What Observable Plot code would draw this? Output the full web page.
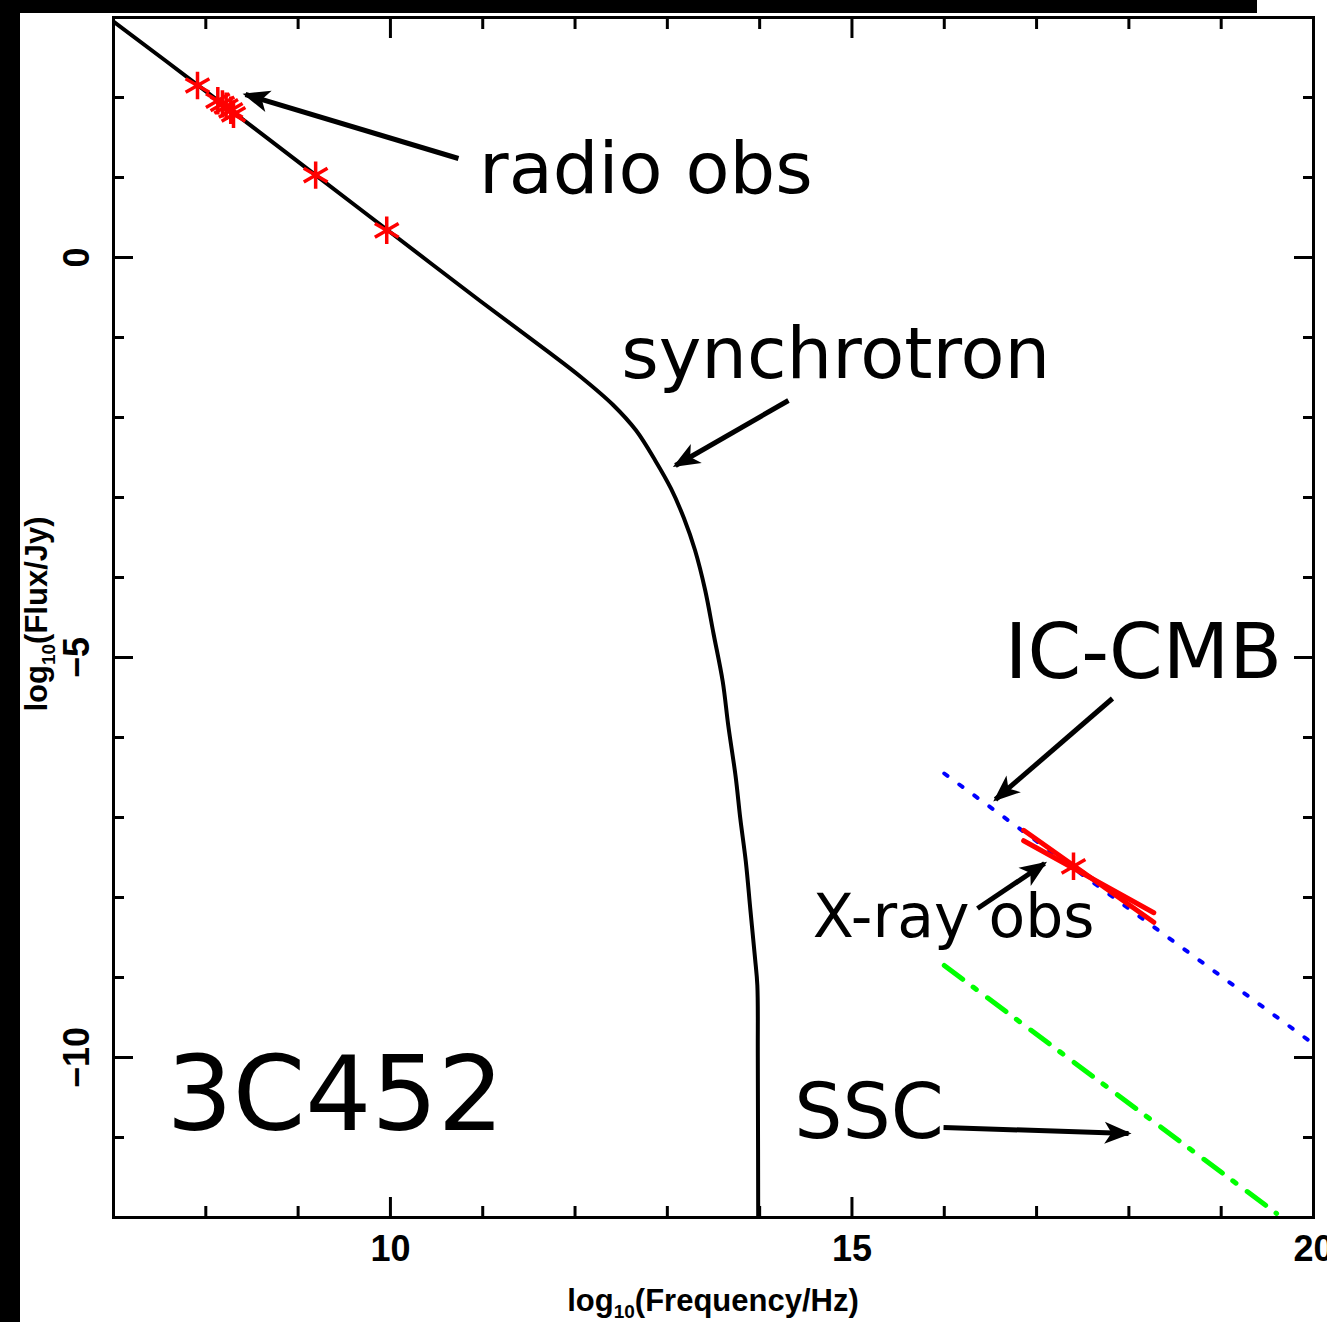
<!DOCTYPE html>
<html><head><meta charset="utf-8">
<script src="https://cdn.jsdelivr.net/npm/d3@7"></script>
<script src="https://cdn.jsdelivr.net/npm/@observablehq/plot@0.6"></script>
<style>
html,body{margin:0;padding:0;background:#fff;overflow:hidden;}
#wrap{position:relative;width:1327px;height:1322px;}
.bar{position:absolute;background:#000;}
</style></head><body>
<div id="wrap"><div id="chart"></div>
<div class="bar" style="left:0;top:0;width:20px;height:1322px"></div>
<div class="bar" style="left:0;top:0;width:1257px;height:13px"></div>
</div>
<script>
// ---------- data (log10 frequency / Hz, log10 flux / Jy) ----------
const synchFreq = [7.00, 7.93, 9.19, 9.96, 10.98, 11.70, 12.06, 12.41, 12.66, 12.87, 13.04, 13.18, 13.30, 13.41, 13.50, 13.60, 13.66, 13.74, 13.79, 13.85, 13.90, 13.95, 13.975, 13.98, 13.985];
const synchFlux = [2.95, 2.14, 1.03, 0.35, -0.55, -1.17, -1.49, -1.84, -2.16, -2.54, -2.89, -3.26, -3.66, -4.16, -4.70, -5.30, -5.85, -6.49, -7.01, -7.55, -8.16, -8.76, -9.1, -10.0, -12.5];

const radioFreq = [7.91, 8.13, 8.18, 8.22, 8.27, 8.30, 9.19, 9.96];
const radioFlux = [2.15, 1.96, 1.92, 1.89, 1.84, 1.79, 1.03, 0.34];

const xrayFreq = [17.40];
const xrayFlux = [-7.61];
const bowFreq = [16.86, 18.27];
const bowFluxA = [-7.16, -8.31];
const bowFluxB = [-7.29, -8.19];

const icFreq = [16.0, 20.0];
const icFlux = [-6.45, -9.83];
const sscFreq = [16.0, 19.6];
const sscFlux = [-8.85, -11.95];

const xMajor = [10, 15, 20];
const xMinor = [8, 9, 11, 12, 13, 14, 16, 17, 18, 19];
const yMajor = [0, -5, -10];
const yMinor = [2, 1, -1, -2, -3, -4, -6, -7, -8, -9, -11];

const noteText = ["radio obs", "synchrotron", "IC-CMB", "X-ray obs", "SSC", "3C452"];
const noteX = [10.96, 12.50, 16.655, 14.575, 14.375, 7.575];
const noteY = [0.8125, -1.51, -5.26, -8.49, -11.0, -10.91];
const noteSize = [72, 72, 77, 60, 76, 104];

const arrowX1 = [10.737, 14.312, 17.822, 16.36, 15.992];
const arrowY1 = [1.2375, -1.7875, -5.5125, -8.1375, -10.875];
const arrowX2 = [8.43, 13.088, 16.555, 17.086, 17.996];
const arrowY2 = [2.0375, -2.6, -6.775, -7.575, -10.95];

// ---------- tables ----------
const pts = (xs, ys) => xs.map((x, i) => ({x, y: ys[i]}));
const synch = pts(synchFreq, synchFlux);
const radio = pts(radioFreq, radioFlux);
const xray = pts(xrayFreq, xrayFlux);
const bowA = pts(bowFreq, bowFluxA);
const bowB = pts(bowFreq, bowFluxB);
const ic = pts(icFreq, icFlux);
const ssc = pts(sscFreq, sscFlux);
const notes = noteText.map((t, i) => ({t, x: noteX[i], y: noteY[i], s: noteSize[i]}));
const arrows = arrowX1.map((x1, i) => ({x1, y1: arrowY1[i], x2: arrowX2[i], y2: arrowY2[i]}));

function arrowHead(color, context) {
  const ns = "http://www.w3.org/2000/svg";
  const doc = (context && context.document) || document;
  const m = doc.createElementNS(ns, "marker");
  m.setAttribute("viewBox", "-27 -12 31 24");
  m.setAttribute("markerWidth", 31);
  m.setAttribute("markerHeight", 24);
  m.setAttribute("markerUnits", "userSpaceOnUse");
  m.setAttribute("refX", 0);
  m.setAttribute("refY", 0);
  m.setAttribute("orient", "auto");
  const p = doc.createElementNS(ns, "path");
  p.setAttribute("d", "M3,0L-24,-11L-17,0L-24,11Z");
  p.setAttribute("fill", color);
  p.setAttribute("stroke", "none");
  m.appendChild(p);
  return m;
}

const W = 1327, H = 1322, ML = 113, MR = 14, MT = 17, MB = 105;
const fmt = d => (d < 0 ? "\u2212" : "") + Math.abs(d);
const tickFont = {fontFamily: "Liberation Sans", fontWeight: "bold", fontSize: 36};

const chart = Plot.plot({
  width: W, height: H,
  marginLeft: ML, marginRight: MR, marginTop: MT, marginBottom: MB,
  x: {domain: [7, 20]},
  y: {domain: [-12, 3]},
  style: {fontFamily: "Liberation Sans", background: "transparent", color: "black"},
  marks: [
    Plot.line(synch, {x: "x", y: "y", stroke: "black", strokeWidth: 4, curve: "catmull-rom", clip: true}),
    Plot.line(ic, {x: "x", y: "y", stroke: "#0000ff", strokeWidth: 4, strokeDasharray: "4,14.6", clip: true}),
    Plot.line(ssc, {x: "x", y: "y", stroke: "#00ff00", strokeWidth: 5, strokeDasharray: "23,13,4,14", clip: true}),
    Plot.line(bowA, {x: "x", y: "y", stroke: "#ff0000", strokeWidth: 5}),
    Plot.line(bowB, {x: "x", y: "y", stroke: "#ff0000", strokeWidth: 5}),
    Plot.dot(radio, {x: "x", y: "y", symbol: "asterisk", r: 13, stroke: "#ff0000", strokeWidth: 3.5}),
    Plot.dot(xray, {x: "x", y: "y", symbol: "asterisk", r: 13, stroke: "#ff0000", strokeWidth: 3.5}),
    Plot.link(arrows, {x1: "x1", y1: "y1", x2: "x2", y2: "y2", stroke: "black", strokeWidth: 5, markerEnd: arrowHead}),
    Plot.text(notes, {x: "x", y: "y", text: "t", fontSize: "s", fontFamily: "DejaVu Sans", textAnchor: "start", lineAnchor: "bottom", fill: "black"}),
    Plot.frame({stroke: "black", strokeWidth: 3}),
    Plot.axisX({anchor: "bottom", ticks: xMajor, tickSize: -20, strokeWidth: 3, fill: "none", label: null}),
    Plot.axisX({anchor: "bottom", ticks: xMinor, tickSize: -11, strokeWidth: 3, fill: "none", label: null}),
    Plot.axisX({anchor: "top", ticks: xMajor, tickSize: -20, strokeWidth: 3, fill: "none", label: null}),
    Plot.axisX({anchor: "top", ticks: xMinor, tickSize: -11, strokeWidth: 3, fill: "none", label: null}),
    Plot.axisY({anchor: "left", ticks: yMajor, tickSize: -20, strokeWidth: 3, fill: "none", label: null}),
    Plot.axisY({anchor: "left", ticks: yMinor, tickSize: -11, strokeWidth: 3, fill: "none", label: null}),
    Plot.axisY({anchor: "right", ticks: yMajor, tickSize: -20, strokeWidth: 3, fill: "none", label: null}),
    Plot.axisY({anchor: "right", ticks: yMinor, tickSize: -11, strokeWidth: 3, fill: "none", label: null}),
    Plot.axisX({anchor: "bottom", ticks: xMajor, tickSize: 0, tickPadding: 18, tickFormat: fmt, label: null, ...tickFont}),
    Plot.axisY({anchor: "left", ticks: yMajor, tickSize: 0, tickPadding: 25, tickRotate: -90, tickFormat: fmt, label: null, ...tickFont})
  ]
});

// axis titles with real subscripts
const svg = d3.select(chart);
const innerW = W - ML - MR, innerH = H - MT - MB;
const xt = svg.append("text")
  .attr("x", ML + innerW / 2).attr("y", H - 11)
  .attr("text-anchor", "middle")
  .attr("font-family", "Liberation Sans").attr("font-weight", "bold").attr("font-size", 31)
  .attr("fill", "black");
xt.append("tspan").text("log");
xt.append("tspan").attr("font-size", 19).attr("dy", 7).text("10");
xt.append("tspan").attr("dy", -7).text("(Frequency/Hz)");

const yt = svg.append("text")
  .attr("transform", `translate(47,${MT + innerH / 2 - 3}) rotate(-90)`)
  .attr("text-anchor", "middle")
  .attr("font-family", "Liberation Sans").attr("font-weight", "bold").attr("font-size", 31)
  .attr("fill", "black");
yt.append("tspan").text("log");
yt.append("tspan").attr("font-size", 19).attr("dy", 8).text("10");
yt.append("tspan").attr("dy", -8).text("(Flux/Jy)");

document.getElementById("chart").appendChild(chart);
</script>
</body></html>
